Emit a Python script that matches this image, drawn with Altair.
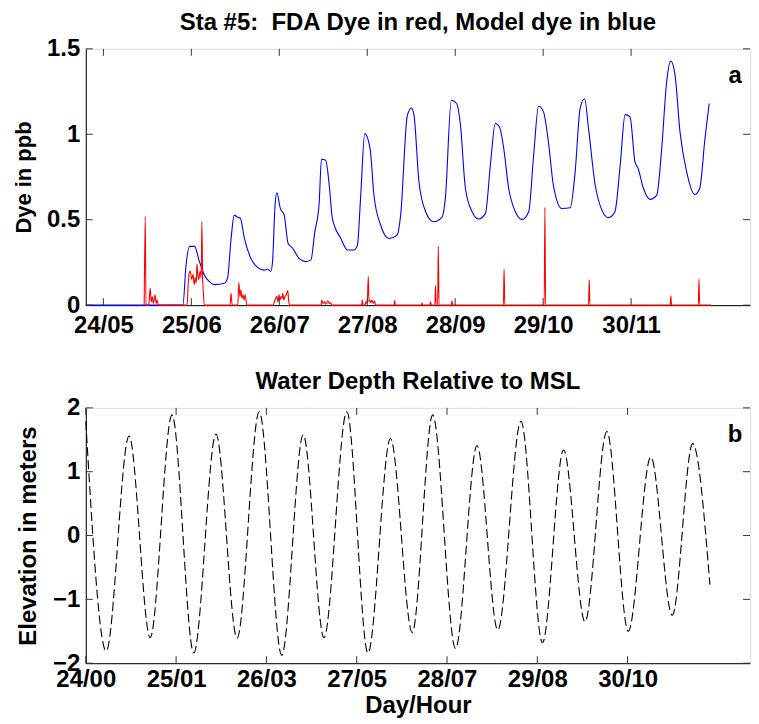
import json
import altair as alt
import pandas as pd

# ---------------- data (hours since 24/00) ----------------
model_hours = [0.0, 27.6, 28.5, 29.5, 30.9, 32.3, 33.7, 35.0, 36.5, 39.4,
               40.3, 41.3, 42.2, 43.2, 43.9, 45.1, 47.0, 48.9, 50.7, 51.7,
               52.6, 53.1, 53.8, 54.3, 55.3, 56.4, 57.5, 58.8, 60.6, 62.5,
               64.0, 65.1, 66.3, 67.0, 68.2, 69.2, 70.1, 72.5, 74.4, 76.2,
               77.2, 78.1, 79.3, 80.8, 81.9, 83.8, 86.2, 88.5, 89.5, 91.4,
               92.6, 93.3, 94.7, 96.6, 98.9, 101.3, 102.2, 103.9, 105.4, 106.5,
               107.9, 109.8, 111.7, 113.6, 115.0, 116.4, 117.6, 118.8, 120.2, 122.1,
               124.0, 125.9, 127.3, 128.7, 130.1, 131.5, 132.9, 135.3, 137.7, 139.1,
               140.5, 141.8, 142.9, 144.8, 146.7, 148.5, 150.4, 151.9, 153.3, 154.7,
               156.1, 157.0, 158.5, 160.4, 162.3, 163.7, 165.1, 166.3, 167.5, 168.9,
               170.8, 173.1, 174.5, 176.0, 177.2]
model_dye = [0, 0, 0.235, 0.344, 0.344, 0.255, 0.177, 0.14, 0.12, 0.128,
             0.158, 0.39, 0.527, 0.514, 0.51, 0.39, 0.27, 0.22, 0.205, 0.21,
             0.198, 0.26, 0.586, 0.658, 0.566, 0.527, 0.362, 0.333, 0.274, 0.255,
             0.265, 0.43, 0.586, 0.854, 0.848, 0.702, 0.507, 0.39, 0.323, 0.323,
             0.35, 0.625, 1.004, 0.917, 0.645, 0.469, 0.39, 0.41, 0.527, 1.111,
             1.154, 1.111, 0.722, 0.547, 0.488, 0.517, 0.625, 1.199, 1.18, 1.053,
             0.684, 0.547, 0.504, 0.537, 0.819, 1.063, 1.043, 0.917, 0.684, 0.547,
             0.502, 0.547, 0.877, 1.164, 1.131, 0.955, 0.703, 0.566, 0.57, 0.78,
             1.15, 1.208, 1.033, 0.703, 0.556, 0.512, 0.547, 0.819, 1.115, 1.102,
             0.839, 0.8, 0.684, 0.619, 0.644, 0.917, 1.306, 1.428, 1.345, 1.014,
             0.78, 0.648, 0.683, 0.975, 1.18]

fda_hours = [16.6, 16.9, 17.1, 17.9, 18.3, 18.6, 18.9, 19.2, 19.7, 20.0, 20.3, 20.6,
             28.8, 29.1, 29.4, 29.7, 30.1, 30.5, 30.8, 31.1, 31.4, 31.6, 31.9, 32.1,
             32.5, 32.8, 33.0, 33.2, 33.4, 33.7,
             41.0, 41.3, 41.6, 43.2, 43.5, 43.8, 44.1, 44.4, 44.7, 45.0, 45.3, 45.8,
             53.3, 53.6, 54.0, 54.3, 54.6, 54.9, 55.2, 55.5, 55.8, 56.0, 56.3, 56.6,
             57.0, 57.4, 57.7, 58.0,
             66.9, 67.1, 67.4, 67.9, 68.2, 68.8, 69.2, 69.6, 69.9,
             78.4, 78.6, 78.8, 79.4, 79.6, 80.0, 80.3, 80.5, 80.7, 81.0, 81.3, 81.7,
             82.1, 82.4,
             87.6, 87.8, 88.0, 95.4, 95.6, 95.8, 97.8, 98.0, 98.2, 99.2, 99.4, 99.6,
             100.0, 100.2, 100.4, 103.9, 104.1, 104.3, 118.7, 118.9, 119.1,
             130.3, 130.5, 130.7, 142.9, 143.1, 143.3, 166.1, 166.3, 166.5,
             174.1, 174.3, 174.5, 177.7]
fda_dye = [0, 0.52, 0, 0, 0.10, 0.02, 0.05, 0.01, 0.06, 0.01, 0.03, 0,
           0, 0.12, 0.19, 0.20, 0.15, 0.18, 0.12, 0.16, 0.13, 0.24, 0.17, 0.15,
           0.20, 0.16, 0.49, 0.17, 0.08, 0,
           0, 0.07, 0, 0, 0.134, 0.05, 0.09, 0.04, 0.06, 0.03, 0.06, 0,
           0, 0.02, 0.04, 0.05, 0.02, 0.06, 0.03, 0.05, 0.04, 0.07, 0.03, 0.05,
           0.06, 0.085, 0.02, 0,
           0, 0.03, 0.01, 0.02, 0.005, 0.025, 0.01, 0.015, 0,
           0, 0.03, 0, 0, 0.02, 0.01, 0.167, 0.02, 0.03, 0.015, 0.03, 0.01,
           0.025, 0,
           0, 0.027, 0, 0, 0.012, 0, 0, 0.02, 0, 0, 0.115, 0,
           0, 0.346, 0, 0, 0.025, 0, 0, 0.21, 0,
           0, 0.572, 0, 0, 0.148, 0, 0, 0.055, 0,
           0, 0.152, 0, 0]

tide_hours = [0.0, 5.8, 12.3, 18.3, 24.5, 30.7, 37.0, 43.0, 49.3, 55.7,
              61.8, 67.7, 74.2, 80.2, 86.6, 92.8, 98.6, 105.1, 111.2, 117.1,
              123.7, 129.8, 135.8, 141.9, 148.1, 154.2, 160.6, 166.7, 172.5, 177.4]
tide_elev = [1.79, -1.81, 1.56, -1.60, 1.89, -1.84, 1.59, -1.61, 1.94, -1.875,
             1.58, -1.60, 1.94, -1.84, 1.52, -1.52, 1.89, -1.77, 1.41, -1.48,
             1.79, -1.68, 1.34, -1.35, 1.63, -1.50, 1.23, -1.25, 1.44, -0.77]

top_tick_hours = [5, 30, 55, 80, 105, 130, 155]
top_tick_labels = ["24/05", "25/06", "26/07", "27/08", "28/09", "29/10", "30/11"]
bot_tick_hours = [0, 25.67, 51.33, 77, 102.67, 128.33, 154]
bot_tick_labels = ["24/00", "25/01", "26/03", "27/05", "28/07", "29/08", "30/10"]
dye_ticks = [0, 0.5, 1, 1.5]
elev_ticks = [-2, -1, 0, 1, 2]

TITLE_A = "Sta #5:\u00a0 FDA Dye in red, Model dye in blue"
TITLE_B = "Water Depth Relative to MSL"

# ---------------- styling ----------------
FONT = "Liberation Sans"
FS = 24
W = 666
H1 = 257
H2 = 256
XMAX = 188.8
TICK = 7
TICKCOL = "#333333"

AX = dict(labelFont=FONT, labelFontSize=FS, labelFontWeight="bold", labelColor="black",
          titleFont=FONT, titleFontWeight="bold", titleColor="black",
          domainColor="black", domainWidth=1, ticks=False, grid=False,
          labelFlush=False, labelOverlap=False)


def label_expr(vals, labels):
    return f"{json.dumps(labels)}[indexof({json.dumps(vals)}, datum.value)]"


def build_panel(lines, xticks, xlabels, xlabpad, xtitle, yticks, yfmt, ydomain,
                ytitle, ytitle_fs, ytitlepad, H, letter, title):
    xax = dict(AX, values=xticks, labelExpr=label_expr(xticks, xlabels),
               labelPadding=xlabpad, titlePadding=2, titleFontSize=FS)
    xax["title"] = xtitle if xtitle else None
    xenc = alt.X("h:Q", scale=alt.Scale(domain=[0, XMAX], nice=False, zero=False),
                 axis=alt.Axis(**xax))
    yenc = alt.Y("v:Q", scale=alt.Scale(domain=ydomain, nice=False, zero=False),
                 axis=alt.Axis(**AX, values=yticks, format=yfmt, title=ytitle,
                               titleFontSize=ytitle_fs, titlePadding=ytitlepad,
                               labelPadding=6))
    layers = []
    for df, color, dash in lines:
        mk = dict(color=color, strokeWidth=1.1, interpolate="monotone")
        if dash:
            mk["strokeDash"] = dash
        layers.append(alt.Chart(df).mark_line(**mk).encode(x=xenc, y=yenc))

    xt = pd.DataFrame({"h": xticks})
    yt = pd.DataFrame({"v": yticks})
    layers.append(alt.Chart(xt).mark_rule(color=TICKCOL, strokeWidth=1).encode(
        x=xenc, y=alt.value(H), y2=alt.value(H - TICK)))
    layers.append(alt.Chart(xt).mark_rule(color=TICKCOL, strokeWidth=1).encode(
        x=xenc, y=alt.value(0), y2=alt.value(TICK)))
    layers.append(alt.Chart(yt).mark_rule(color=TICKCOL, strokeWidth=1).encode(
        y=yenc, x=alt.value(0), x2=alt.value(TICK)))
    layers.append(alt.Chart(yt).mark_rule(color=TICKCOL, strokeWidth=1).encode(
        y=yenc, x=alt.value(W), x2=alt.value(W - TICK)))
    layers.append(alt.Chart(pd.DataFrame({"t": [letter]})).mark_text(
        font=FONT, fontSize=FS, fontWeight="bold", color="black",
        align="center", baseline="alphabetic").encode(
        text="t:N", x=alt.value(W - 15), y=alt.value(34)))

    return alt.layer(*layers).properties(
        width=W, height=H,
        title=alt.TitleParams(title, font=FONT, fontSize=FS, fontWeight="bold",
                              color="black", anchor="middle", offset=2))


model_df = pd.DataFrame({"h": model_hours, "v": model_dye})
fda_df = pd.DataFrame({"h": fda_hours, "v": fda_dye})
tide_df = pd.DataFrame({"h": tide_hours, "v": tide_elev})

top = build_panel([(model_df, "#0000ff", None), (fda_df, "#ff0000", None)],
                  top_tick_hours, top_tick_labels, 8, None,
                  dye_ticks, ".1~f", [0, 1.5], "Dye in ppb", 22, 11, H1, "a", TITLE_A)
bottom = build_panel([(tide_df, "#000000", [9, 4])],
                     bot_tick_hours, bot_tick_labels, 4, "Day/Hour",
                     elev_ticks, "d", [-2, 2], "Elevation in meters", 24, 12, H2, "b", TITLE_B)

chart = alt.vconcat(top, bottom, spacing=31).properties(
    padding={"left": 4, "top": 1, "right": 0, "bottom": 0}
).configure_view(
    stroke="black", strokeWidth=1
).configure(background="white")

chart.save("out.html", embed_options={"renderer": "svg", "actions": False})
